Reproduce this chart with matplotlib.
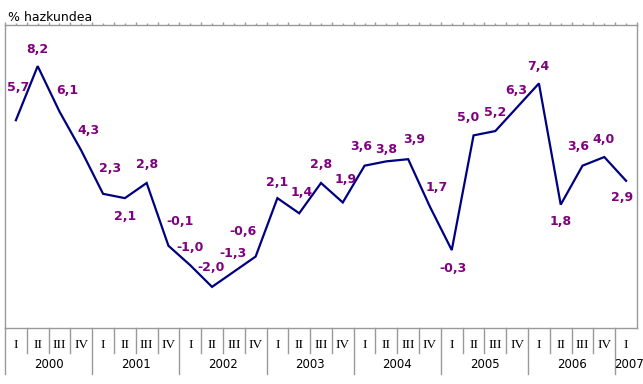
import matplotlib.pyplot as plt
import numpy as np

# quarterly growth, 2000-I .. 2007-I
values = [5.7, 8.2, 6.1, 4.3, 2.3, 2.1, 2.8, -0.1, -1.0, -2.0, -1.3, -0.6,
          2.1, 1.4, 2.8, 1.9, 3.6, 3.8, 3.9, 1.7, -0.3, 5.0, 5.2, 6.3,
          7.4, 1.8, 3.6, 4.0, 2.9]
quarters = ["I", "II", "III", "IV"]
years = ["2000", "2001", "2002", "2003", "2004", "2005", "2006", "2007"]

# label offsets from each point, in pixels (dx, dy up)
label_offsets = [(2, 33), (0, 17), (8, 21), (7, 20), (7, 25), (0, -18), (0, 18),
                 (12, 24), (0, 18), (-1, 19), (-1, 18), (-13, 25), (0, 16),
                 (2, 21), (0, 18), (3, 23), (-3, 19), (0, 12), (6, 20), (7, 19),
                 (1, -18), (-5, 18), (0, 19), (-1, 17), (-1, 17), (0, -17),
                 (-4, 19), (-1, 18), (-4, -17)]

grey = "#999999"
px = 72 / 100  # pixels -> points

fig = plt.figure(figsize=(6.43, 3.84), dpi=100)
ax = fig.add_axes([5 / 643, 56 / 384, 632 / 643, 303 / 384])

n = len(values)
x = np.arange(n) + 0.5
ax.plot(x, values, color="#000080", lw=1.6, solid_joinstyle="miter")

for xi, v, (dx, dy) in zip(x, values, label_offsets):
    ax.annotate(f"{v:.1f}".replace(".", ","), (xi, v), xytext=(dx * px, dy * px),
                textcoords="offset points", ha="center", va="center",
                fontsize=9, fontweight="bold", color="#800080")

ax.set_xlim(0, n)
ax.set_ylim(-3.9, 10.1)
ax.set_yticks([])
for s in ax.spines.values():
    s.set_color(grey)
    s.set_linewidth(1)

# ticks along the top border
ax.set_xticks(np.arange(n + 1))
ax.set_xticks(np.arange(n) + 0.5, minor=True)
ax.tick_params(axis="x", which="both", top=True, bottom=False,
               labeltop=False, labelbottom=False, direction="out", color=grey)
ax.tick_params(axis="x", which="major", length=2.2, width=1)
ax.tick_params(axis="x", which="minor", length=1.2, width=1)

# category table under the plot
tr = ax.get_xaxis_transform()
for i in range(n):
    ax.text(i + 0.5, -0.056, quarters[i % 4], transform=tr, ha="center", va="center",
            fontsize=9.5, family="Liberation Serif", clip_on=False)
    if i > 0:
        bottom = -0.152 if i % 4 == 0 else -0.0825
        ax.plot([i, i], [0, bottom], transform=tr, color=grey, lw=1, clip_on=False)
ax.plot([0, 0], [0, -0.152], transform=tr, color=grey, lw=1, clip_on=False)

for k, yr in enumerate(years):
    start = k * 4
    end = min(start + 4, n)
    xc = (start + end) / 2
    if end - start < 4:
        xc += 0.15
    ax.text(xc, -0.119, yr, transform=tr, ha="center", va="center",
            fontsize=8.5, clip_on=False)

fig.text(8 / 643, 1 - 21 / 384, "% hazkundea", fontsize=9, va="baseline", ha="left")

fig.savefig("out.png", dpi=100)
